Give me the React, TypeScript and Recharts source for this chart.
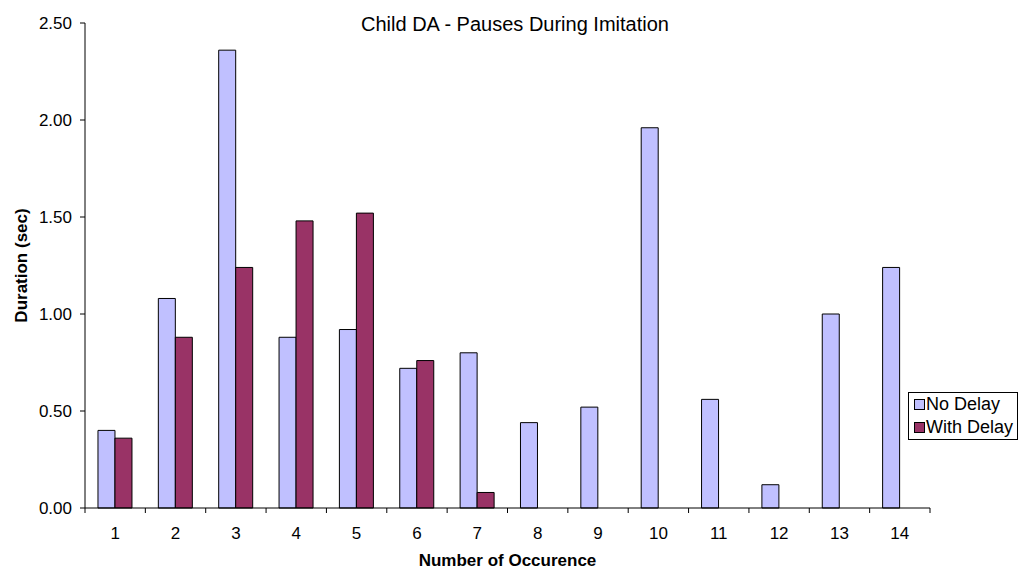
import React from 'react';
import { BarChart, Bar, XAxis, YAxis } from 'recharts';

const categories = ['1', '2', '3', '4', '5', '6', '7', '8', '9', '10', '11', '12', '13', '14'];
const noDelay = [0.4, 1.08, 2.36, 0.88, 0.92, 0.72, 0.8, 0.44, 0.52, 1.96, 0.56, 0.12, 1.0, 1.24];
const withDelay: (number | null)[] = [0.36, 0.88, 1.24, 1.48, 1.52, 0.76, 0.08, null, null, null, null, null, null, null];
const yTicks = [0, 0.5, 1, 1.5, 2, 2.5];

const seriesNames = ['No Delay', 'With Delay'];
const seriesColors = ['#C0C0FF', '#993366'];

const data = categories.map((c, i) => ({ cat: c, nd: noDelay[i], wd: withDelay[i] }));

const FONT = '"Liberation Sans", Arial, sans-serif';

const CHART_W = 1025;
const CHART_H = 575;
const MARGIN = { top: 23, right: 95, bottom: 27, left: 0 };
const Y_AXIS_W = 85;
const X_TICK_SIZE = 5;
const X_TICK_MARGIN = 14;
const BAND = (CHART_W - MARGIN.left - MARGIN.right - Y_AXIS_W) / categories.length;

const XTick = (props: any) => {
  const { x, y, payload, index } = props;
  const axisY = y - X_TICK_SIZE - X_TICK_MARGIN;
  const lx = x - BAND / 2;
  const rx = x + BAND / 2;
  return (
    <g>
      <line x1={lx} x2={lx} y1={axisY} y2={axisY + X_TICK_SIZE} stroke="#000" />
      {index === categories.length - 1 && <line x1={rx} x2={rx} y1={axisY} y2={axisY + X_TICK_SIZE} stroke="#000" />}
      <text x={x} y={y} dy="0.71em" textAnchor="middle" fontSize={17} fontFamily={FONT} fill="#000">
        {payload.value}
      </text>
    </g>
  );
};

export default function App() {
  return (
    <div style={{ position: 'absolute', left: 0, top: 0, width: CHART_W, height: CHART_H, background: '#fff', fontFamily: FONT }}>
      <BarChart
        width={CHART_W}
        height={CHART_H}
        data={data}
        margin={MARGIN}
        barCategoryGap="21.5%"
        barGap={0}
      >
        <XAxis
          dataKey="cat"
          height={40}
          axisLine={{ stroke: '#000' }}
          tickLine={false}
          tickSize={X_TICK_SIZE}
          tickMargin={X_TICK_MARGIN}
          tick={XTick}
          interval={0}
          label={{
            content: (p: any) => {
              const vb = p.viewBox || {};
              return (
                <text x={vb.x + vb.width / 2} y={566} textAnchor="middle" fontSize={17} fontWeight="bold" fontFamily={FONT} fill="#000">
                  Number of Occurence
                </text>
              );
            },
          }}
        />
        <YAxis
          width={Y_AXIS_W}
          domain={[0, 2.5]}
          ticks={yTicks}
          tickFormatter={(v: number) => v.toFixed(2)}
          axisLine={{ stroke: '#000' }}
          tickLine={{ stroke: '#000' }}
          tickSize={5}
          tickMargin={8}
          tick={{ fill: '#000', fontSize: 17, fontFamily: FONT }}
          label={{
            content: (p: any) => {
              const vb = p.viewBox || {};
              const cy = vb.y + vb.height / 2;
              return (
                <text x={27} y={cy} transform={`rotate(-90, 27, ${cy})`} textAnchor="middle" fontSize={17} fontWeight="bold" fontFamily={FONT} fill="#000">
                  Duration (sec)
                </text>
              );
            },
          }}
        />
        <Bar dataKey="nd" name={seriesNames[0]} fill={seriesColors[0]} stroke="#000" strokeWidth={1} isAnimationActive={false} />
        <Bar dataKey="wd" name={seriesNames[1]} fill={seriesColors[1]} stroke="#000" strokeWidth={1} isAnimationActive={false} />
      </BarChart>
      <div style={{ position: 'absolute', left: 0, top: 13, width: 1030, textAlign: 'center', fontSize: 20, lineHeight: '23px', color: '#000' }}>
        Child DA - Pauses During Imitation
      </div>
      <div
        style={{
          position: 'absolute',
          left: 908,
          top: 392,
          width: 108,
          height: 46,
          border: '1px solid #000',
          background: '#fff',
          fontSize: 18,
          lineHeight: '23px',
          color: '#000',
        }}
      >
        {seriesNames.map((n, i) => (
          <div key={n} style={{ display: 'flex', alignItems: 'center', height: 23, paddingLeft: 5 }}>
            <span style={{ display: 'inline-block', width: 9, height: 9, background: seriesColors[i], border: '1px solid #000', marginRight: 1 }} />
            <span>{n}</span>
          </div>
        ))}
      </div>
    </div>
  );
}
